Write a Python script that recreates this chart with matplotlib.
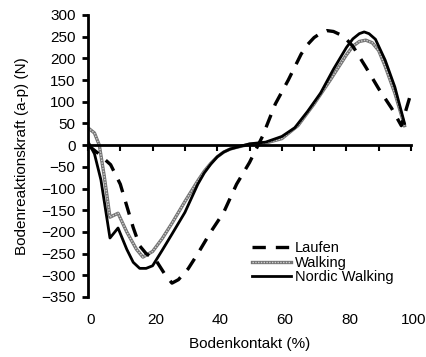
import numpy as np
import matplotlib
matplotlib.use('Agg')
import matplotlib.pyplot as plt
import matplotlib.transforms as mtransforms
from matplotlib.lines import Line2D

plt.rcParams['font.family'] = ['Liberation Sans', 'DejaVu Sans']

# Bodenkontakt (%) und Kraft (N)
laufen_x = [0, 3, 7, 10, 12, 14, 16, 18, 21, 24, 26, 28, 31, 34, 38, 42, 46, 50, 54, 58,
            62, 66, 68, 70, 72, 74, 76, 78, 80, 82, 86, 90, 94, 97, 100]
laufen_y = [0, -18, -45, -90, -140, -190, -232, -250, -265, -300, -318, -310, -285, -250,
            -200, -155, -90, -40, 20, 95, 150, 210, 232, 248, 258, 264, 262, 255, 244, 228,
            180, 130, 85, 45, 120]

walking_x = [0, 2, 3.5, 5, 6.8, 9.3, 12, 15, 17, 20, 23, 26, 30, 34, 36, 38, 40, 42, 44, 46,
             50, 55, 60, 65, 70, 75, 80, 82, 84, 86, 88, 90, 92, 95, 98]
walking_y = [40, 28, 0, -70, -166, -157, -200, -240, -258, -245, -215, -180, -130, -82,
             -60, -42, -27, -16, -9, -5, 2, 5, 15, 45, 95, 150, 208, 228, 239, 242, 236,
             218, 182, 120, 45]

nordic_x = [0, 2, 4, 6.8, 9.3, 12, 14, 16, 18, 20, 23, 26, 30, 34, 36, 38, 40, 42, 44, 46,
            50, 55, 60, 64, 68, 72, 76, 80, 82, 84, 85.5, 87, 89, 92, 95, 98]
nordic_y = [8, -20, -80, -214, -191, -240, -270, -284, -284, -278, -242, -205, -155, -90,
            -64, -44, -27, -16, -9, -5, 3, 7, 20, 40, 78, 120, 175, 225, 245, 257, 261,
            257, 244, 196, 134, 50]

x_ticks = [0, 20, 40, 60, 80, 100]
y_ticks = list(range(-350, 301, 50))

fig = plt.figure(figsize=(4.26, 3.57), dpi=100)
ax = fig.add_axes([88 / 426, 60 / 357, 323 / 426, 282 / 357])

# Walking: grau, schraffiert wirkend
ax.plot(walking_x, walking_y, color='0.45', lw=2.4, zorder=2)
ax.plot(walking_x, walking_y, color='0.82', lw=1.0, ls=(0, (1, 1)), zorder=2)
ax.plot(nordic_x, nordic_y, color='black', lw=2.0, zorder=3)
ax.plot(laufen_x, laufen_y, color='black', lw=2.4, ls=(0, (4, 3)), zorder=4)

ax.set_xlim(0, 100)
ax.set_ylim(-350, 300)
ax.spines['top'].set_visible(False)
ax.spines['right'].set_visible(False)
ax.spines['bottom'].set_position(('data', 0))
ax.spines['left'].set_linewidth(2)
ax.spines['bottom'].set_linewidth(2)

ax.set_yticks(y_ticks)
ax.set_xticks(list(range(0, 101, 10)))
ax.tick_params(axis='y', direction='out', length=4, width=2, labelsize=11, pad=5)
ax.tick_params(axis='x', direction='out', length=4, width=1.5, labelbottom=False)

# x-Beschriftungen unten am Diagramm
offset = mtransforms.ScaledTranslation(0.03, 0, fig.dpi_scale_trans)
trans = mtransforms.blended_transform_factory(ax.transData, ax.transAxes) + offset
for xt in x_ticks:
    ax.text(xt, -0.082, str(xt), transform=trans, ha='center', va='center', fontsize=11)

fig.text(250 / 426, 1 - 344 / 357, 'Bodenkontakt (%)', ha='center', va='center', fontsize=11)
fig.text(22 / 426, 1 - 156 / 357, 'Bodenreaktionskraft (a-p) (N)', rotation=90,
         ha='center', va='center', fontsize=11)

h_laufen = Line2D([], [], color='black', lw=2.4, ls=(0, (4, 3)))
h_walk = (Line2D([], [], color='0.45', lw=2.4), Line2D([], [], color='0.82', lw=1.0, ls=(0, (1, 1))))
h_nordic = Line2D([], [], color='black', lw=2.0)
fig.legend([h_laufen, h_walk, h_nordic], ['Laufen', 'Walking', 'Nordic Walking'],
           loc='upper left', bbox_to_anchor=(252 / 426, 1 - 241 / 357),
           frameon=False, fontsize=10.5, handlelength=2.7, handletextpad=0.25,
           labelspacing=0.05, borderpad=0, borderaxespad=0)

fig.savefig('out.png', dpi=100)
